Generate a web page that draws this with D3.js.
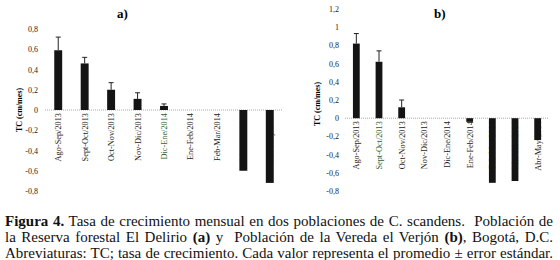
<!DOCTYPE html>
<html>
<head>
<meta charset="utf-8">
<script src="https://cdn.jsdelivr.net/npm/d3@7"></script>
<style>
  body { margin: 0; background: #fff; }
  svg { display: block; }
  svg text { font-family: "Liberation Serif", "Times New Roman", Times, serif; }
</style>
</head>
<body>
<div id="chart"></div>
<script>
// periods (categories)
const periodsA = [
  "Ago-Sep/2013", "Sept-Oct/2013", "Oct-Nov/2013", "Nov-Dic/2013", "Dic-Ene/2014",
  "Ene-Feb/2014", "Feb-Mar/2014", "Mar-Abr/2014", "Abr-May/2014",
];
const periodsB = periodsA;

// mean growth rate (cm/mes) and upper error
const meanA = [0.59, 0.46, 0.20, 0.11, 0.04, 0, 0, -0.60, -0.72];
const errA = [0.13, 0.06, 0.07, 0.06, 0.02, 0, 0, 0, 0];
const meanB = [0.82, 0.62, 0.12, 0, 0, -0.04, -0.71, -0.69, -0.24];
const errB = [0.11, 0.12, 0.08, 0, 0, 0, 0, 0, 0];

const ticksA = [-0.8, -0.6, -0.4, -0.2, 0, 0.2, 0.4, 0.6, 0.8];
const ticksB = [-0.8, -0.6, -0.4, -0.2, 0, 0.2, 0.4, 0.6, 0.8, 1, 1.2];

const greenLabels = { a: "Dic-Ene/2014", b: "Sept-Oct/2013" };

const captionLines = [
  [["Figura 4.", true], [" Tasa de crecimiento mensual en dos poblaciones de C. scandens.  Población de", false]],
  [["la Reserva forestal El Delirio ", false], ["(a)", true], [" y  Población de la Vereda el Verjón ", false], ["(b)", true], [", Bogotá, D.C.", false]],
  [["Abreviaturas: TC; tasa de crecimiento. Cada valor representa el promedio ± error estándar.", false]],
];

const svg = d3.select("#chart").append("svg")
  .attr("width", 560).attr("height", 260);

const fmt = (d) => (d === 0 ? "0" : String(d).replace(".", ","));

function panel(opts) {
  const { cats, mean, err, ticks, domain, yTop, xRange, tickX, titleX, title, axisX, axisCy, green } = opts;
  const y = d3.scaleLinear().domain(domain).range([191, yTop]);
  const x = d3.scaleBand().domain(cats).range(xRange).paddingInner(0.7).paddingOuter(0.35);
  const g = svg.append("g");

  // y tick labels
  g.append("g")
    .attr("transform", `translate(${tickX},0)`)
    .call(d3.axisLeft(y).tickValues(ticks).tickFormat(fmt).tickSize(0).tickPadding(0))
    .call((a) => a.select(".domain").remove())
    .call((a) => a.selectAll("text").attr("font-size", 8).attr("fill", "#222"));

  // zero line
  g.append("line")
    .attr("x1", xRange[0]).attr("x2", xRange[1])
    .attr("y1", y(0)).attr("y2", y(0))
    .attr("stroke", "#aaa").attr("stroke-width", 1).attr("stroke-dasharray", "1,1");

  // category labels (drawn below the bars)
  g.append("g").selectAll("text").data(cats).join("text")
    .attr("transform", (d) => `translate(${x(d) + x.bandwidth() / 2 + 3},${y(0) + 3}) rotate(-90)`)
    .attr("text-anchor", "end")
    .attr("font-size", 8.3)
    .attr("fill", (d) => (d === green ? "#2f5e2f" : "#222"))
    .text((d) => d);

  // bars
  g.append("g").selectAll("rect").data(mean).join("rect")
    .attr("x", (d, i) => x(cats[i]))
    .attr("y", (d) => y(Math.max(0, d)))
    .attr("width", x.bandwidth())
    .attr("height", (d) => Math.abs(y(d) - y(0)))
    .attr("fill", "#141414");

  // error bars
  const eb = g.append("g").attr("stroke", "#222").attr("stroke-width", 1);
  mean.forEach((m, i) => {
    if (!err[i]) return;
    const cx = x(cats[i]) + x.bandwidth() / 2;
    eb.append("line").attr("x1", cx).attr("x2", cx).attr("y1", y(m)).attr("y2", y(m + err[i]));
    eb.append("line").attr("x1", cx - 2.5).attr("x2", cx + 2.5).attr("y1", y(m + err[i])).attr("y2", y(m + err[i]));
  });

  // axis title
  g.append("text")
    .attr("transform", `translate(${axisX},${axisCy}) rotate(-90)`)
    .attr("text-anchor", "middle")
    .attr("font-size", 8).attr("font-weight", "bold")
    .text("TC (cm/mes)");

  // panel title
  g.append("text")
    .attr("x", titleX).attr("y", 18)
    .attr("font-size", 13).attr("font-weight", "bold")
    .text(title);
}

panel({
  cats: periodsA, mean: meanA, err: errA, ticks: ticksA, domain: [-0.8, 0.8], yTop: 29,
  xRange: [45, 283], tickX: 38, titleX: 117, title: "a)", axisX: 22, axisCy: 110, green: greenLabels.a,
});
panel({
  cats: periodsB, mean: meanB, err: errB, ticks: ticksB, domain: [-0.8, 1.2], yTop: 9,
  xRange: [345, 549], tickX: 339, titleX: 434, title: "b)", axisX: 320, axisCy: 104, green: greenLabels.b,
});

// caption, justified to the full width by widening word gaps
const capWidth = 548;
const cap = svg.append("g").attr("font-size", 13).attr("fill", "#111");
const lines = captionLines.map((parts, i) => {
  const t = cap.append("text")
    .attr("x", 5).attr("y", 226 + i * 16)
    .attr("xml:space", "preserve");
  parts.forEach(([s, bold]) => {
    t.append("tspan").attr("font-weight", bold ? "bold" : null).text(s);
  });
  return t;
});
// the last line sets the type size: it runs nearly the full width
const lastW = lines[2].node().getComputedTextLength();
const size = 13 * (capWidth - 4) / lastW;
cap.attr("font-size", size);
lines.forEach((t, i) => {
  const text = captionLines[i].map((p) => p[0]).join("");
  const gaps = (text.match(/ /g) || []).length;
  const w = t.node().getComputedTextLength();
  t.attr("word-spacing", (capWidth - w) / gaps);
});
</script>
</body>
</html>
